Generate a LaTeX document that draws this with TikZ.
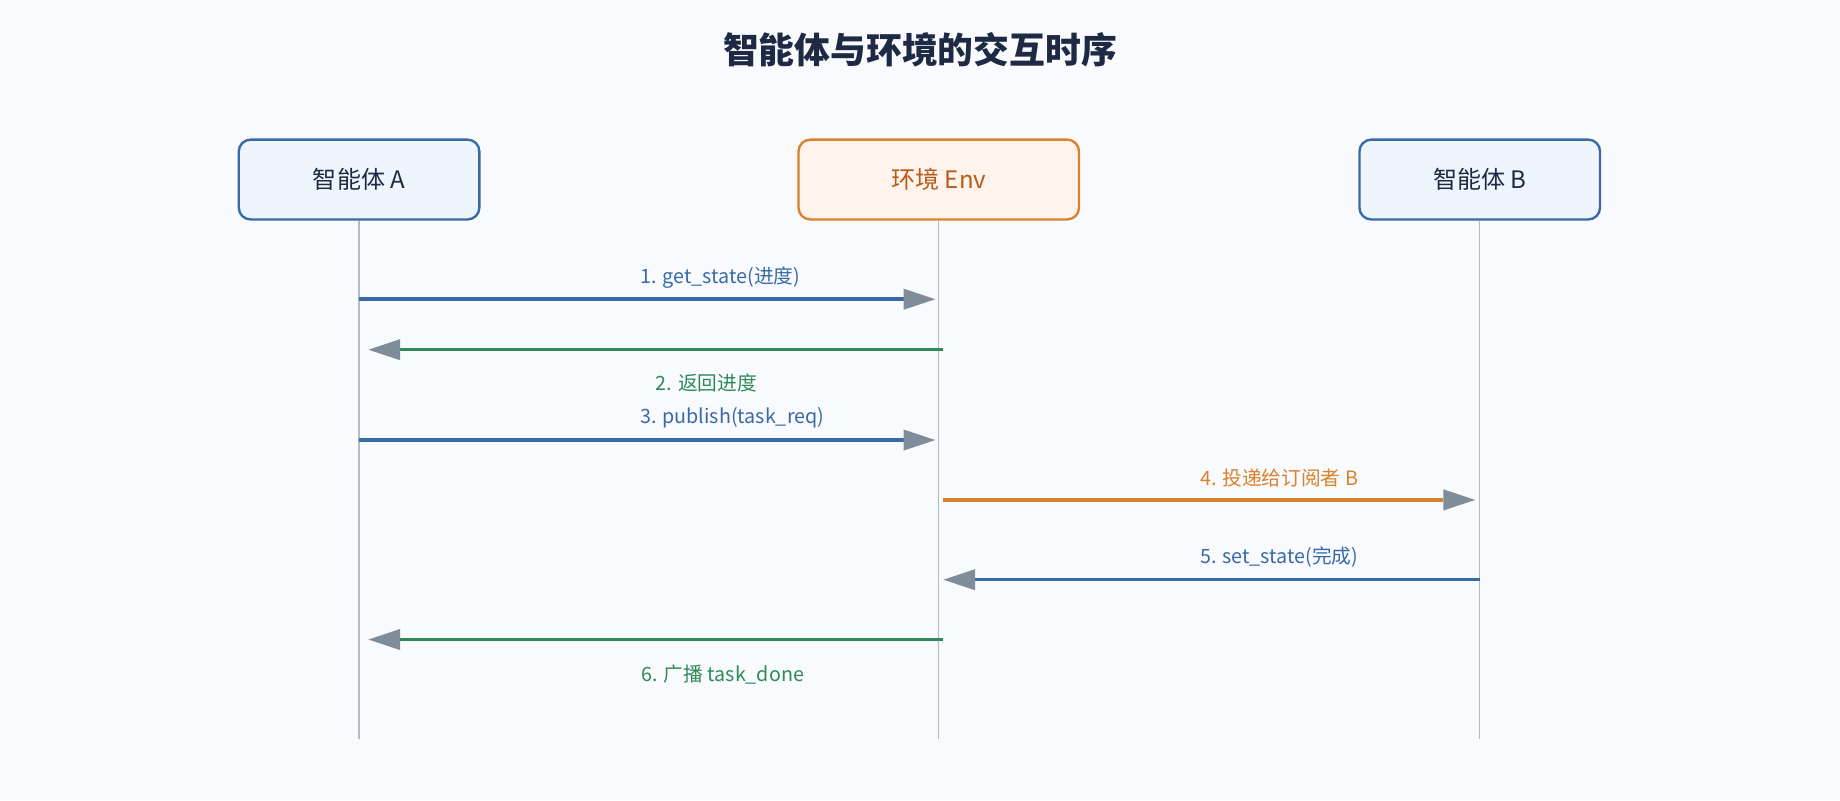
\documentclass[tikz,border=0pt]{standalone}
\usepackage{fontspec}
\setmainfont{Noto Sans CJK SC}
\usetikzlibrary{arrows.meta}
\definecolor{bg}{HTML}{F8FAFE}
\definecolor{navy}{HTML}{1E2A44}
\definecolor{blu}{HTML}{3A6AA5}
\definecolor{bluf}{HTML}{EEF5FC}
\definecolor{org}{HTML}{D9822B}
\definecolor{orgf}{HTML}{FFF3EC}
\definecolor{orgt}{HTML}{B85C1A}
\definecolor{grn}{HTML}{2E8B57}
\definecolor{life}{HTML}{B0BCC8}
\definecolor{tipc}{HTML}{7F8C9A}
\begin{document}
\begin{tikzpicture}[x=1pt,y=-1pt,
  actor/.style={draw=blu,fill=bluf,line width=2pt,rounded corners=10pt,minimum width=205pt,minimum height=68pt,font=\fontsize{20.5}{22}\selectfont,text=navy},
  msg/.style={line width=3pt,-{Triangle[length=27pt,width=18pt,color=tipc,line width=0pt]}},
  lbl/.style={font=\fontsize{16.8}{18}\selectfont},
  life/.style={draw=life,line width=1.2pt}]
\fill[bg] (0,0) rectangle (1568,682);
\useasboundingbox (0,0) rectangle (1568,682);
\node[font=\bfseries\fontsize{30.5}{34}\selectfont,text=navy] (title) at (784,42) {智能体与环境的交互时序};
\node[actor] (A) at (306,153) {智能体 A};
\node[actor,draw=org,fill=orgf,text=orgt,minimum width=239pt] (E) at (800,153) {环境 Env};
\node[actor] (B) at (1261,153) {智能体 B};
\coordinate (Ae) at (306,630); \coordinate (Ee) at (800,630); \coordinate (Be) at (1261,630);
\draw[life] (A.south) -- (Ae);
\draw[life] (E.south) -- (Ee);
\draw[life] (B.south) -- (Be);
\coordinate (a1) at (306,255); \coordinate (e1) at (797,255);
\coordinate (e2) at (804,298); \coordinate (a2) at (314,298);
\coordinate (a3) at (306,375); \coordinate (e3) at (797,375);
\coordinate (e4) at (804,426); \coordinate (b4) at (1257,426);
\coordinate (b5) at (1261,494); \coordinate (e5) at (804,494);
\coordinate (e6) at (804,545); \coordinate (a6) at (314,545);
\draw[msg,blu] (a1) -- (e1);
\draw[msg,grn] (e2) -- (a2);
\draw[msg,blu] (a3) -- (e3);
\draw[msg,org] (e4) -- (b4);
\draw[msg,blu] (b5) -- (e5);
\draw[msg,grn] (e6) -- (a6);
\node[lbl,text=blu] (l1) at (614,237) {1. get\_state(进度)};
\node[lbl,text=grn] (l2) at (602,326) {2. 返回进度};
\node[lbl,text=blu] (l3) at (624,356) {3. publish(task\_req)};
\node[lbl,text=org] (l4) at (1090,407) {4. 投递给订阅者 B};
\node[lbl,text=blu] (l5) at (1090,475) {5. set\_state(完成)};
\node[lbl,text=grn] (l6) at (616,575) {6. 广播 task\_done};
\end{tikzpicture}
\end{document}
